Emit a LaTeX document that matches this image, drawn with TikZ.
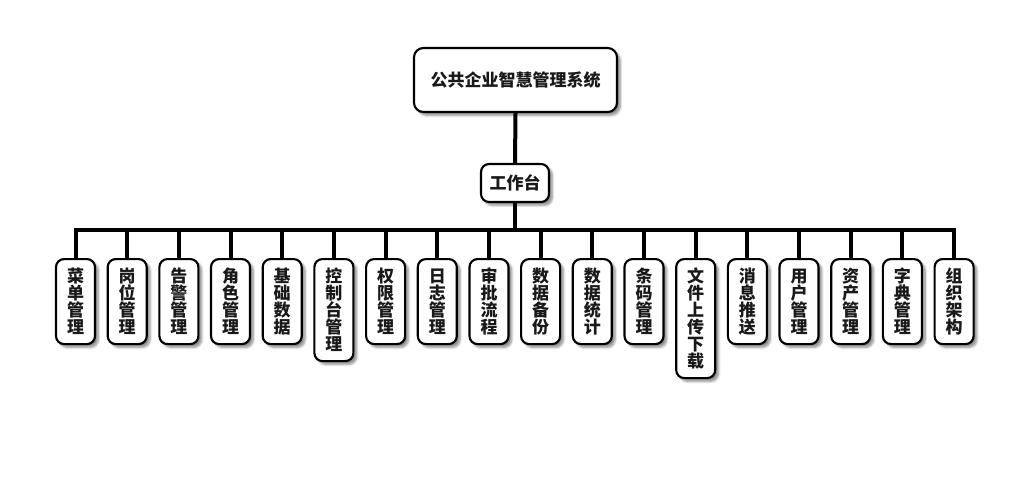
\documentclass[tikz,border=0pt]{standalone}
\usepackage{fontspec}
\newfontfamily\cjk{Noto Sans CJK SC}
\usetikzlibrary{shadows.blur,backgrounds}
\tikzset{
  box/.style={draw=black, line width=1.6pt, fill=white, rounded corners=6pt,
    blur shadow={shadow xshift=2.5pt, shadow yshift=-2.5pt, shadow blur steps=6, shadow opacity=45},
    font=\cjk\bfseries\fontsize{12.75pt}{12.75pt}\selectfont, text=black!90, align=center, inner sep=0pt},
  leaf/.style={box, minimum width=29.25pt},
  conn/.style={draw=black, line width=3pt}
}
\newcommand\leaf[4]{\node[leaf, minimum height={(#3*17+17)*0.75pt}, anchor=north] (#1) at (#2,258) {#4};}
\begin{document}
\begin{tikzpicture}[x=0.75pt,y=-0.75pt]
\useasboundingbox (0,0) rectangle (1030,487);
\node[box, rounded corners=7pt, minimum width={203*0.75pt}, minimum height={64*0.75pt}] (root) at (515.5,80) {公共企业智慧管理系统};
\node[box, minimum width={68*0.75pt}, minimum height={38*0.75pt}] (ws) at (515,183) {工作台};
\leaf{n1}{75.5}{4}{菜\\单\\管\\理}
\leaf{n2}{127.2}{4}{岗\\位\\管\\理}
\leaf{n3}{178.9}{4}{告\\警\\管\\理}
\leaf{n4}{230.5}{4}{角\\色\\管\\理}
\leaf{n5}{282.2}{4}{基\\础\\数\\据}
\leaf{n6}{333.9}{5}{控\\制\\台\\管\\理}
\leaf{n7}{385.6}{4}{权\\限\\管\\理}
\leaf{n8}{437.3}{4}{日\\志\\管\\理}
\leaf{n9}{489.0}{4}{审\\批\\流\\程}
\leaf{n10}{540.6}{4}{数\\据\\备\\份}
\leaf{n11}{592.3}{4}{数\\据\\统\\计}
\leaf{n12}{644.0}{4}{条\\码\\管\\理}
\leaf{n13}{695.7}{6}{文\\件\\上\\传\\下\\载}
\leaf{n14}{747.4}{4}{消\\息\\推\\送}
\leaf{n15}{799.0}{4}{用\\户\\管\\理}
\leaf{n16}{850.7}{4}{资\\产\\管\\理}
\leaf{n17}{902.4}{4}{字\\典\\管\\理}
\leaf{n18}{954.1}{4}{组\\织\\架\\构}
\coordinate (bus) at (515,229.5);
\begin{scope}[on background layer]
\draw[conn] (root.south) -- (ws.north);
\draw[conn] (ws.south) -- (ws.south |- bus);
\draw[conn] (n1.north) -- (n1.north |- bus) -- (n18.north |- bus) -- (n18.north);
\foreach \i in {2,...,17} {\draw[conn] (n\i.north) -- (n\i.north |- bus);}
\end{scope}
\end{tikzpicture}
\end{document}
